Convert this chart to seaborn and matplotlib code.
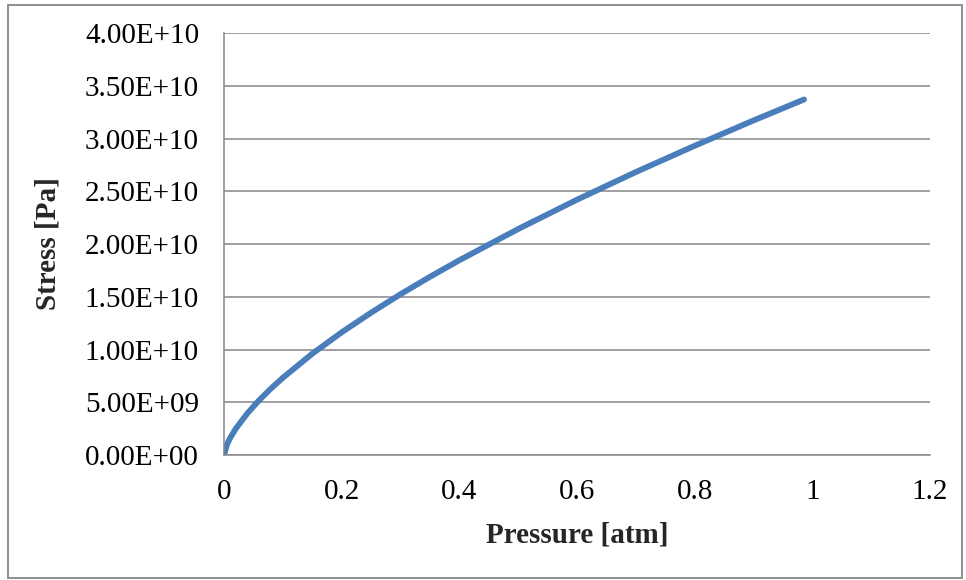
import numpy as np
import pandas as pd
import matplotlib
matplotlib.use("Agg")
import matplotlib.pyplot as plt
import matplotlib.ticker as mticker
from matplotlib.patches import Rectangle
import seaborn as sns

# data
pressure = [0, 0.005, 0.01, 0.02, 0.04, 0.06, 0.08, 0.1, 0.15, 0.2, 0.25, 0.3,
            0.35, 0.4, 0.5, 0.6, 0.7, 0.8, 0.9, 0.986]
stress = [0, 0.099e10, 0.157e10, 0.250e10, 0.397e10, 0.521e10, 0.631e10, 0.732e10,
          0.960e10, 1.163e10, 1.349e10, 1.524e10, 1.689e10, 1.846e10, 2.142e10,
          2.420e10, 2.682e10, 2.931e10, 3.171e10, 3.37e10]
x_ticks = [0, 0.2, 0.4, 0.6, 0.8, 1, 1.2]
x_tick_labels = ['0', '0.2', '0.4', '0.6', '0.8', '1', '1.2']
y_ticks = [0, 0.5e10, 1.0e10, 1.5e10, 2.0e10, 2.5e10, 3.0e10, 3.5e10, 4.0e10]

df = pd.DataFrame({'pressure': pressure, 'stress': stress})

sns.set_style("white")
plt.rcParams['font.family'] = ['Liberation Serif', 'DejaVu Serif']

grey = '#868686'
fig = plt.figure(figsize=(9.66, 5.8), dpi=100)
ax = fig.add_axes([0.2319, 0.2155, 0.9627 - 0.2319, 0.9431 - 0.2155])

sns.lineplot(data=df, x='pressure', y='stress', ax=ax, color='#4A7EBB',
             linewidth=4.2, solid_capstyle='round')

ax.set_xlim(0, 1.2)
ax.set_ylim(0, 4e10)
ax.set_xticks(x_ticks)
ax.set_xticklabels(x_tick_labels)
ax.set_yticks(y_ticks)
ax.yaxis.set_major_formatter(mticker.FuncFormatter(lambda v, p: f"{v:.2E}"))

ax.grid(axis='y', color=grey, linewidth=1.1)
ax.grid(axis='x', visible=False)
for s in ['top', 'right']:
    ax.spines[s].set_visible(False)
for s in ['left', 'bottom']:
    ax.spines[s].set_color(grey)
    ax.spines[s].set_linewidth(1.1)
ax.tick_params(axis='both', direction='out', length=6, width=1.1, color=grey,
               labelsize=21, labelcolor='black')
ax.tick_params(axis='y', pad=12)
ax.tick_params(axis='x', pad=11)

ax.set_xlabel('Pressure [atm]', fontsize=21, fontweight='bold', labelpad=12)
ax.set_ylabel('Stress [Pa]', fontsize=21, fontweight='bold', labelpad=17)

fig.patches.append(Rectangle((8 / 966, 2 / 580), 954 / 966, 573 / 580,
                             transform=fig.transFigure, fill=False,
                             edgecolor=grey, linewidth=1.3))

fig.savefig("out.png", dpi=100)
